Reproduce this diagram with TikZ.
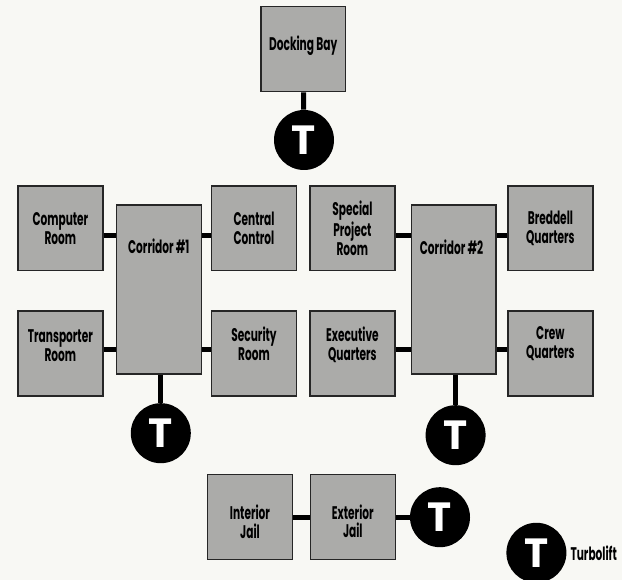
\documentclass[tikz,border=0pt]{standalone}
\usepackage{fontspec}
\setmainfont[FakeStretch=0.58]{Poppins}
\newfontfamily\liftfont{Poppins}
\usetikzlibrary{positioning}
\definecolor{pagecol}{HTML}{F8F8F4}
\definecolor{roomcol}{HTML}{ABABA9}
\tikzset{
	roomtext/.style={align=center, inner sep=0pt, font=\fontsize{13}{13.2}\selectfont\bfseries},
	room/.style={roomtext, draw=black!85, line width=0.35mm, fill=roomcol, minimum width=2.12cm, minimum height=2.12cm},
	corridor/.style={room, minimum height=4.22cm},
	lift/.style={circle, fill=black, text=white, minimum size=1.5cm, inner sep=0pt, font=\liftfont\fontsize{29}{29}\selectfont\bfseries},
	link/.style={line width=1.25mm}
}

\begin{document}
\begin{tikzpicture}
	%%%%% START %%%%%
	\useasboundingbox[fill=pagecol] (0, 0) rectangle (15.55, 14.5);

	\node[room, label={[roomtext, yshift=0.08cm]center:Docking Bay}] (dock) at (7.58, 13.27) {};
	\node[lift] (liftTop) at (7.6, 11) {T};

	% left wing
	\node[room] (computer) at (1.51, 8.79) {Computer\\Room};
	\node[corridor, label={[roomtext, yshift=1.09cm]center:Corridor \#1}] (corrOne) at (3.97, 7.26) {};
	\node[room] (central) at (6.35, 8.79) {Central\\Control};
	\node[room, label={[roomtext, yshift=0.2cm]center:Transporter\\Room}] (transporter) at (1.51, 5.66) {};
	\node[room, label={[roomtext, yshift=0.25cm]center:Security\\Room}] (security) at (6.35, 5.66) {};
	\node[lift] (liftLeft) at (4.02, 3.67) {T};

	% right wing
	\node[room] (special) at (8.81, 8.79) {Special\\Project\\Room};
	\node[corridor, label={[roomtext, xshift=-0.05cm, yshift=1.05cm]center:Corridor \#2}] (corrTwo) at (11.34, 7.26) {};
	\node[room] (breddell) at (13.76, 8.79) {Breddell\\Quarters};
	\node[room, label={[roomtext, yshift=0.22cm]center:Executive\\Quarters}] (executive) at (8.81, 5.66) {};
	\node[room, label={[roomtext, yshift=0.25cm]center:Crew\\Quarters}] (crew) at (13.76, 5.66) {};
	\node[lift] (liftRight) at (11.39, 3.62) {T};

	% jail
	\node[room, label={[roomtext, yshift=-0.12cm]center:Interior\\Jail}] (interior) at (6.25, 1.57) {};
	\node[room, label={[roomtext, yshift=-0.1cm]center:Exterior\\Jail}] (exterior) at (8.82, 1.57) {};
	\node[lift] (liftJail) at (11, 1.57) {T};

	% legend
	\node[lift] (liftKey) at (13.41, 0.68) {T};
	\node[roomtext, right=0.09cm of liftKey] (turbolift) {Turbolift};

	\draw[link] (dock) -- (liftTop);
	\draw[link] (corrOne.south -| liftLeft) -- (liftLeft);
	\draw[link] (corrTwo.south -| liftRight) -- (liftRight);
	\draw[link] ([yshift=-0.19cm]computer.east) -- ([yshift=-0.19cm]computer.east -| corrOne.west);
	\draw[link] ([yshift=-0.19cm]central.west) -- ([yshift=-0.19cm]central.west -| corrOne.east);
	\draw[link] ([yshift=0.11cm]transporter.east) -- ([yshift=0.11cm]transporter.east -| corrOne.west);
	\draw[link] ([yshift=0.11cm]security.west) -- ([yshift=0.11cm]security.west -| corrOne.east);
	\draw[link] ([yshift=-0.19cm]special.east) -- ([yshift=-0.19cm]special.east -| corrTwo.west);
	\draw[link] ([yshift=-0.19cm]breddell.west) -- ([yshift=-0.19cm]breddell.west -| corrTwo.east);
	\draw[link] ([yshift=0.11cm]executive.east) -- ([yshift=0.11cm]executive.east -| corrTwo.west);
	\draw[link] ([yshift=0.11cm]crew.west) -- ([yshift=0.11cm]crew.west -| corrTwo.east);
	\draw[link] (interior) -- (exterior);
	\draw[link] (exterior) -- (liftJail);
	%%%%% END %%%%%
\end{tikzpicture}
\end{document}
